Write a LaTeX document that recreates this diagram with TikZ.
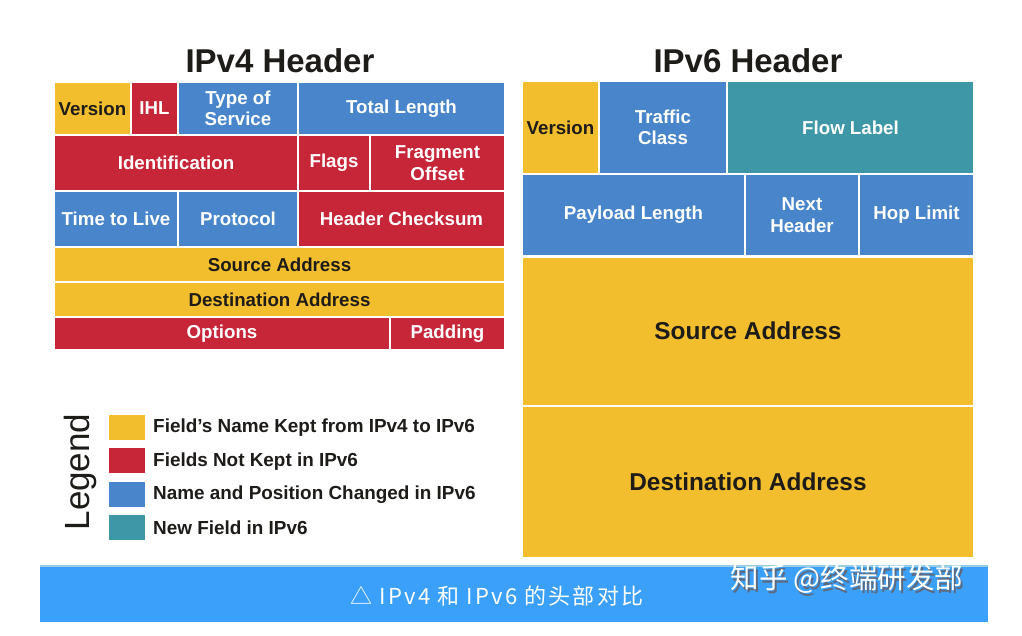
\documentclass[tikz,border=0pt]{standalone}
\usepackage{fontspec}
\setmainfont{Liberation Sans}
\newfontfamily\cjk{Noto Sans CJK SC}
\newfontfamily\cjkwide[LetterSpace=10]{Noto Sans CJK SC}
\definecolor{fy}{RGB}{243,190,45}
\definecolor{fr}{RGB}{199,37,56}
\definecolor{fb}{RGB}{72,133,202}
\definecolor{ft}{RGB}{62,151,166}
\definecolor{ban}{RGB}{59,160,250}
\definecolor{banline}{RGB}{150,205,225}
\definecolor{ink}{RGB}{30,28,25}
\definecolor{shadowc}{RGB}{95,105,125}
\newcommand\fld[8]{\node[cell,fill=#6,text=#7,minimum width={#4-#2},minimum height={#5-#3}] (#1) at ({(#2+#4)/2},{(#3+#5)/2}) {#8};}
\newcommand\shadowed[1]{\rlap{\kern2pt\raisebox{-2.5pt}{\color{shadowc}#1}}#1}
\begin{document}
\begin{tikzpicture}[x=1pt,y=-1pt,
  cell/.style={draw=white,line width=2pt,inner sep=0pt,align=center,font=\bfseries\fontsize{18.7}{21.5}\selectfont},
  title/.style={text=ink,font=\bfseries\fontsize{33}{33}\selectfont},
  swatch/.style={inner sep=0pt,minimum width=36pt,minimum height=25pt},
  legtext/.style={anchor=west,inner sep=0pt,text=ink,font=\bfseries\fontsize{18.9}{20}\selectfont}]
\useasboundingbox (0,0) rectangle (1022,635);
\fill[white] (0,0) rectangle (1022,635);
% titles
\node[title] (t4) at (280,61) {IPv4 Header};
\node[title] (t6) at (748,61) {IPv6 Header};
% IPv4
\fld{v4ver}{54}{82}{131}{135}{fy}{ink}{Version}
\fld{v4ihl}{131}{82}{178}{135}{fr}{white}{IHL}
\fld{v4tos}{178}{82}{298}{135}{fb}{white}{Type of\\Service}
\fld{v4tl}{298}{82}{505}{135}{fb}{white}{Total Length}
\fld{v4id}{54}{135}{298}{191}{fr}{white}{Identification}
\fld{v4fl}{298}{135}{370}{191}{fr}{white}{Flags}
\fld{v4fo}{370}{135}{505}{191}{fr}{white}{Fragment\\Offset}
\fld{v4ttl}{54}{191}{178}{247}{fb}{white}{Time to Live}
\fld{v4pr}{178}{191}{298}{247}{fb}{white}{Protocol}
\fld{v4hc}{298}{191}{505}{247}{fr}{white}{Header Checksum}
\fld{v4sa}{54}{247}{505}{282}{fy}{ink}{Source Address}
\fld{v4da}{54}{282}{505}{317}{fy}{ink}{Destination Address}
\fld{v4op}{54}{317}{390}{350}{fr}{white}{Options}
\fld{v4pad}{390}{317}{505}{350}{fr}{white}{Padding}
% IPv6
\fld{v6ver}{522}{81}{599}{174}{fy}{ink}{Version}
\fld{v6tc}{599}{81}{727}{174}{fb}{white}{Traffic\\Class}
\fld{v6fl}{727}{81}{974}{174}{ft}{white}{Flow Label}
\fld{v6pl}{522}{174}{745}{256}{fb}{white}{Payload Length}
\fld{v6nh}{745}{174}{859}{256}{fb}{white}{Next\\Header}
\fld{v6hl}{859}{174}{974}{256}{fb}{white}{Hop Limit}
\node[cell,fill=fy,text=ink,minimum width=452,minimum height=149,font=\bfseries\fontsize{24.4}{26}\selectfont] (v6sa) at (748,331) {Source Address};
\node[cell,fill=fy,text=ink,minimum width=452,minimum height=152,font=\bfseries\fontsize{24.4}{26}\selectfont] (v6da) at (748,481.5) {Destination Address};
% legend
\node[rotate=90,text=ink,inner sep=0pt,font=\fontsize{35}{35}\selectfont] (leg) at (80,472) {Legend};
\node[swatch,fill=fy] (s1) at (127,427) {};
\node[swatch,fill=fr] (s2) at (127,460) {};
\node[swatch,fill=fb] (s3) at (127,494) {};
\node[swatch,fill=ft] (s4) at (127,527) {};
\node[legtext] (l1) at (153,428) {Field's Name Kept from IPv4 to IPv6};
\node[legtext] (l2) at (153,462) {Fields Not Kept in IPv6};
\node[legtext] (l3) at (153,495) {Name and Position Changed in IPv6};
\node[legtext] (l4) at (153,528) {New Field in IPv6};
% banner
\node[fill=ban,inner sep=0pt,minimum width=948,minimum height=56] (banner) at (514,594) {};
\draw[banline,line width=1.5pt] (banner.north west) -- (banner.north east);
\node[text=white,inner sep=0pt,font=\cjkwide\fontsize{22}{22}\selectfont] (cap) at (497,596) {△ IPv4 和 IPv6 的头部对比};
\node[text=white,inner sep=0pt,font=\cjk\fontsize{28.5}{28.5}\selectfont] (wm) at (847,580.5) {\shadowed{知乎 @终端研发部}};
\end{tikzpicture}
\end{document}
